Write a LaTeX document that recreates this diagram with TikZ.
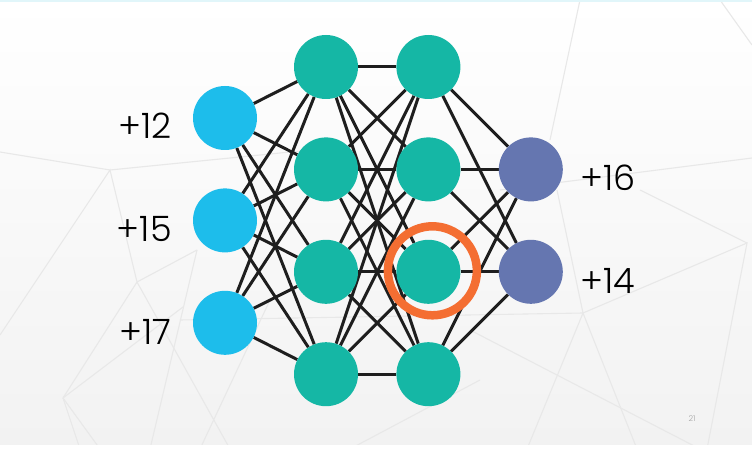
\documentclass[tikz,border=0pt]{standalone}
\usepackage{fontspec}
\setmainfont{Poppins}[UprightFont=* Light]
\usepackage{xcolor}
\usepackage{tikz}
\usetikzlibrary{positioning}
\definecolor{inblue}{RGB}{29,189,235}
\definecolor{hidteal}{RGB}{21,183,165}
\definecolor{outslate}{RGB}{101,118,176}
\definecolor{ringorange}{RGB}{244,110,50}
\definecolor{wirecol}{RGB}{30,30,30}
\definecolor{bgline}{RGB}{232,232,232}
\definecolor{bgbottom}{RGB}{242,242,242}
\definecolor{topstrip}{RGB}{225,246,250}
\pgfdeclarelayer{back}
\pgfdeclarelayer{wires}
\pgfsetlayers{back,wires,main}

\begin{document}
\begin{tikzpicture}[
  x=1pt, y=-1pt,
  node distance=38pt and 38pt,
  neuron/.style={circle, inner sep=0pt, minimum size=64pt},
  innode/.style={neuron, fill=inblue},
  hidnode/.style={neuron, fill=hidteal},
  outnode/.style={neuron, fill=outslate},
  val/.style={font=\fontsize{35}{40}\selectfont, inner sep=0pt},
  link/.style={draw=wirecol, line width=3pt},
  bgl/.style={draw=bgline, line width=1.1pt}
]
\useasboundingbox (0,0) rectangle (752,449);

% input layer
\node[innode] (in1) at (225,118) {};
\node[innode, below=of in1] (in2) {};
\node[innode, below=of in2] (in3) {};

% hidden layers
\node[hidnode] (h1) at (326,67) {};
\node[hidnode, below=of h1] (h2) {};
\node[hidnode, below=of h2] (h3) {};
\node[hidnode, below=of h3] (h4) {};
\node[hidnode, right=of h1] (g1) {};
\node[hidnode, right=of h2] (g2) {};
\node[hidnode, right=of h3] (g3) {};
\node[hidnode, right=of h4] (g4) {};

% output layer
\node[outnode, right=of g2] (o1) {};
\node[outnode, right=of g3] (o2) {};

% values
\node[val, left=21pt of in1, yshift=-8pt] (v1) {+12};
\node[val, left=21pt of in2, yshift=-9pt] (v2) {+15};
\node[val, left=21pt of in3, yshift=-9pt] (v3) {+17};
\node[val, right=17pt of o1, yshift=-8pt] (v4) {+16};
\node[val, right=17pt of o2, yshift=-9pt] (v5) {+14};

% highlighted neuron
\node[circle, draw=ringorange, line width=8.5pt, inner sep=0pt, minimum size=89pt] (hl) at ([xshift=4pt, yshift=1pt]g3) {};

\node[font=\fontsize{8}{9}\selectfont, text=gray!70] (pg) at (692,419) {21};

\begin{pgfonlayer}{wires}
\foreach \a in {1,2,3}
  \foreach \b in {1,...,4}
    \draw[link] (in\a) -- (h\b);
\foreach \a in {1,...,4}
  \foreach \b in {1,...,4}
    \draw[link] (h\a) -- (g\b);
\foreach \a in {1,...,4}
  \foreach \b in {1,2}
    \draw[link] (g\a) -- (o\b);
\end{pgfonlayer}

% slide background
\begin{pgfonlayer}{back}
\shade[top color=white, bottom color=bgbottom] (0,0) rectangle (752,445);
\draw[bgl] (0,152) -- (110,170) -- (330,148);
\draw[bgl] (0,335) -- (110,170) -- (137,282) -- (197,250);
\draw[bgl] (137,282) -- (63,398) -- (80,449);
\draw[bgl] (63,398) -- (100,449);
\draw[bgl] (63,398) -- (183,307);
\draw[bgl] (137,282) -- (230,449);
\draw[bgl] (197,250) -- (150,449);
\draw[bgl] (180,320) -- (583,313) -- (747,243) -- (707,449);
\draw[bgl] (583,313) -- (637,449);
\draw[bgl] (583,313) -- (557,190);
\draw[bgl] (583,313) -- (527,449);
\draw[bgl] (500,190) -- (752,158);
\draw[bgl] (470,330) -- (700,449);
\draw[bgl] (550,140) -- (580,0);
\draw[bgl] (720,0) -- (752,45);
\draw[bgl] (747,243) -- (640,190);
\draw[bgl] (200,449) -- (270,300);
\draw[bgl] (350,449) -- (480,380);
\fill[white] (0,445) rectangle (752,449);
\fill[topstrip] (0,0) rectangle (752,2);
\end{pgfonlayer}
\end{tikzpicture}
\end{document}
